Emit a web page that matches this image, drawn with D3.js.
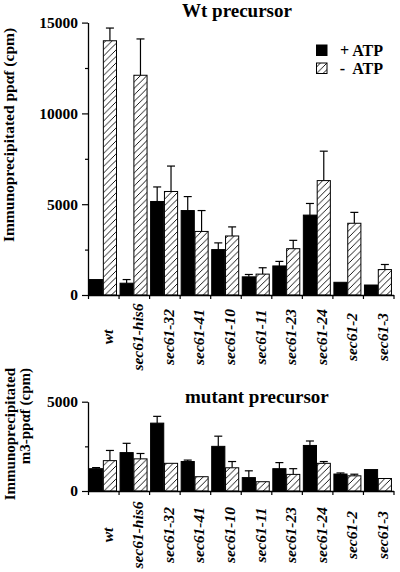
<!DOCTYPE html>
<html><head><meta charset="utf-8">
<script src="https://cdn.jsdelivr.net/npm/d3@7"></script>
<style>
body{margin:0;background:#fff;}
svg text{font-family:"Liberation Serif","Times New Roman",serif;fill:#000;}
</style></head>
<body><div id="chart"></div>
<script>
const categories = ["wt","sec61-his6","sec61-32","sec61-41","sec61-10","sec61-11","sec61-23","sec61-24","sec61-2","sec61-3"];
const seriesNames = ["+ ATP","-  ATP"];
// Wt precursor
const wtPlus     = [850, 650, 5150, 4650, 2500, 1000, 1600, 4400, 700, 550];
const wtPlusErr  = [0, 200, 800, 770, 370, 130, 250, 640, 0, 0];
const wtMinus    = [14000, 12100, 5700, 3500, 3250, 1150, 2550, 6300, 3950, 1400];
const wtMinusErr = [700, 2000, 1400, 1150, 500, 350, 460, 1620, 600, 280];
// mutant precursor
const mutPlus     = [1250, 2150, 3800, 1650, 2500, 750, 1250, 2550, 950, 1200];
const mutPlusErr  = [60, 520, 380, 80, 570, 380, 340, 250, 60, 0];
const mutMinus    = [1700, 1800, 1550, 800, 1300, 520, 930, 1550, 850, 700];
const mutMinusErr = [570, 300, 0, 0, 350, 0, 320, 100, 90, 0];
const topTicks = [0, 5000, 10000, 15000];
const topMinor = [2500, 7500, 12500];
const botTicks = [0, 5000];
const botMinor = [2500];

const W = 400, H = 572;
const svg = d3.select("#chart").append("svg").attr("width", W).attr("height", H);

const defs = svg.append("defs");
const pat = defs.append("pattern").attr("id","hatch").attr("patternUnits","userSpaceOnUse")
  .attr("width",6.5).attr("height",6.5);
pat.append("rect").attr("width",6.5).attr("height",6.5).attr("fill","#fff");
pat.append("path").attr("d","M0,6.5 L6.5,0 M-1,1 L1,-1 M5.5,7.5 L7.5,5.5")
  .attr("stroke","#000").attr("stroke-width",0.9);

const x0 = 88, x1 = 393.5;
const x = d3.scaleBand().domain(categories).range([x0, x1]).padding(0);
const xs = d3.scaleBand().domain(seriesNames).range([1.5, 28.5]).paddingInner(0.05);
const xb = d3.scaleLinear().domain([0, categories.length]).range([x0, x1]);

function panel(cfg){
  const y = d3.scaleLinear().domain(cfg.domain).range([cfg.y0, cfg.y1]);
  const g = svg.append("g");
  const data = categories.map((c,i)=>({c, vals:[
    {s:seriesNames[0], v:cfg.plus[i], e:cfg.plusErr[i]},
    {s:seriesNames[1], v:cfg.minus[i], e:cfg.minusErr[i]}]}));
  const grp = g.selectAll("g.cat").data(data).join("g").attr("class","cat")
    .attr("transform", d=>`translate(${x(d.c)},0)`);
  // error bars
  grp.selectAll("g.err").data(d=>d.vals.filter(v=>v.e>0)).join("g").attr("class","err")
    .each(function(d){
      const cx = xs(d.s) + xs.bandwidth()/2;
      const gg = d3.select(this);
      gg.append("line").attr("x1",cx).attr("x2",cx).attr("y1",y(d.v)).attr("y2",y(d.v+d.e))
        .attr("stroke","#000").attr("stroke-width",1.2);
      gg.append("line").attr("x1",cx-4).attr("x2",cx+4).attr("y1",y(d.v+d.e)).attr("y2",y(d.v+d.e))
        .attr("stroke","#000").attr("stroke-width",1.2);
    });
  grp.selectAll("rect").data(d=>d.vals).join("rect")
    .attr("x", d=>xs(d.s)).attr("width", xs.bandwidth())
    .attr("y", d=>y(d.v)).attr("height", d=>y(0)-y(d.v))
    .attr("fill", d=>d.s===seriesNames[0] ? "#000" : "url(#hatch)")
    .attr("stroke","#000").attr("stroke-width",1);

  // y axis
  const ya = g.append("g").attr("transform",`translate(${x0},0)`)
    .call(d3.axisLeft(y).tickValues(cfg.ticks).tickSize(6).tickSizeOuter(0).tickFormat(d3.format("d")));
  ya.selectAll("text").attr("font-size",15.5).attr("font-weight","bold").attr("x",-10)
    .attr("font-family","Liberation Serif, serif");
  ya.select(".domain").attr("stroke-width",1.3);
  ya.selectAll(".tick line").attr("stroke-width",1.2);
  const ym = g.append("g").attr("transform",`translate(${x0},0)`)
    .call(d3.axisLeft(y).tickValues(cfg.minor).tickSize(3).tickSizeOuter(0).tickFormat(""));
  ym.select(".domain").remove();
  ym.selectAll(".tick line").attr("stroke-width",1.2);
  // x axis
  const xa = g.append("g").attr("transform",`translate(0,${cfg.y0})`)
    .call(d3.axisBottom(xb).tickValues(d3.range(categories.length+1)).tickSize(4).tickSizeOuter(0).tickFormat(""));
  xa.select(".domain").attr("stroke-width",1.3);
  xa.selectAll(".tick line").attr("stroke-width",1.2);
  // category labels
  g.selectAll("text.cl").data(categories).join("text").attr("class","cl")
    .attr("transform", d=>`translate(${x(d)+x.bandwidth()/2+9.5},${cfg.labelY}) rotate(-90)`)
    .attr("text-anchor","middle").attr("font-size",15.5).attr("font-weight","bold")
    .attr("font-style","italic").text(d=>d);
  // title
  g.append("text").attr("x",cfg.titleX).attr("y",cfg.titleY).attr("font-size",19)
    .attr("font-weight","bold").text(cfg.title);
  return y;
}

panel({domain:[0,15000], y0:295, y1:22.6, ticks:topTicks, minor:topMinor,
  plus:wtPlus, plusErr:wtPlusErr, minus:wtMinus, minusErr:wtMinusErr,
  labelY:337, title:"Wt precursor", titleX:182, titleY:17});
panel({domain:[0,5000], y0:491, y1:401.7, ticks:botTicks, minor:botMinor,
  plus:mutPlus, plusErr:mutPlusErr, minus:mutMinus, minusErr:mutMinusErr,
  labelY:535, title:"mutant precursor", titleX:185, titleY:403});

// y axis titles
svg.append("text").attr("transform","translate(14,135) rotate(-90)").attr("text-anchor","middle")
  .attr("font-size",15.5).attr("font-weight","bold").text("Immunoprecipitated ppαf (cpm)");
svg.append("text").attr("transform","translate(15,368) rotate(-90)").attr("text-anchor","end")
  .attr("font-size",15).attr("font-weight","bold").text("Immunoprecipitated");
svg.append("text").attr("transform","translate(29.5,368) rotate(-90)").attr("text-anchor","end")
  .attr("font-size",15).attr("font-weight","bold").text("m3-ppαf (cpm)");

// legend
const leg = svg.append("g");
seriesNames.forEach((s,i)=>{
  leg.append("rect").attr("x",316.5).attr("y",45+i*18).attr("width",10.5).attr("height",10.5)
    .attr("fill", i===0 ? "#000" : "url(#hatch)").attr("stroke","#000").attr("stroke-width",1);
  leg.append("text").attr("x",383).attr("y",55.5+i*18).attr("text-anchor","end")
    .attr("font-size",16).attr("font-weight","bold").style("white-space","pre").text(s);
});
</script></body></html>
